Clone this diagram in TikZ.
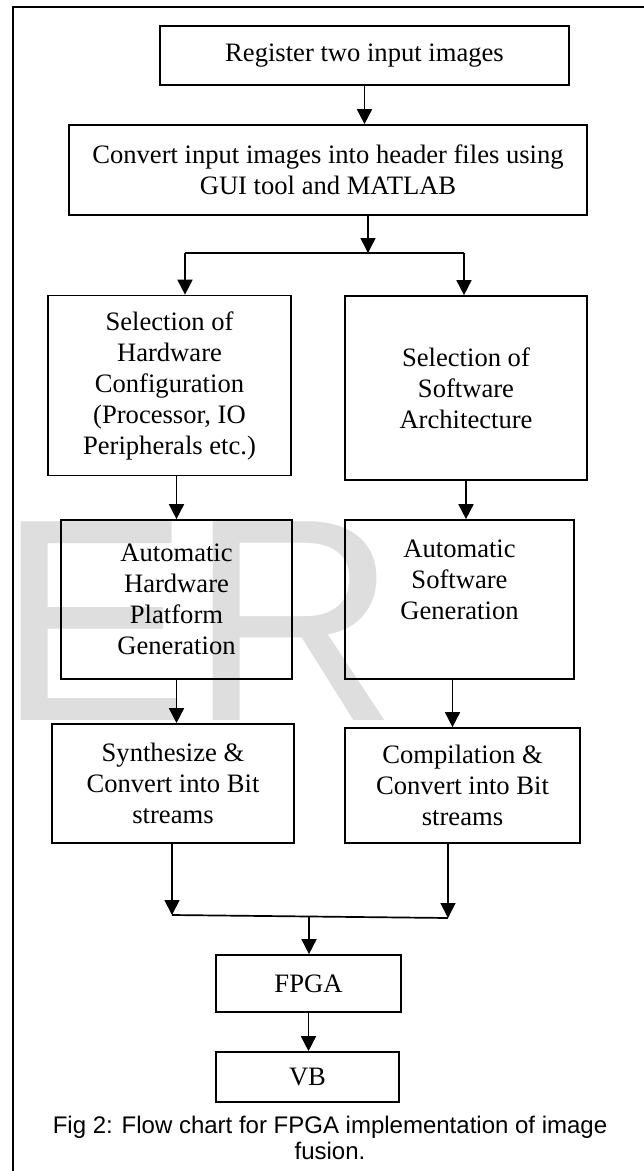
\documentclass[tikz,border=0pt]{standalone}
\usepackage{fontspec}
\setmainfont{Liberation Serif}
\newfontfamily\capfont{Liberation Sans}
\usetikzlibrary{arrows.meta,calc}

\definecolor{wmgray}{gray}{0.87}

\begin{document}
\begin{tikzpicture}[x=1pt,y=-1pt]

\def\lw{1.7pt}
\def\fs{26.6}

\tikzset{
    box/.style={draw, line width=\lw, align=center, inner sep=0pt,
        font=\fontsize{\fs}{31}\selectfont},
    arr/.style={line width=1.7pt, -{Triangle[length=15pt,width=15pt]}},
    wire/.style={line width=1.7pt}
}

\useasboundingbox (0,0) rectangle (644,1171);

% watermark and frame
\node[anchor=base west, inner sep=0pt, text=wmgray,
    font=\capfont\fontsize{289}{289}\selectfont] (wm) at (-3,720) {ER};
\draw[line width=\lw] (13,1171) -- (13,7) -- (644,7);

\node[box, minimum width=409, minimum height=59] (reg) at (364.5,55.5)
    {Register two input images};
\node[box, minimum width=518, minimum height=90] (conv) at (328,170)
    {Convert input images into header files using\\GUI tool and MATLAB};

\node[box, minimum width=243, minimum height=180] (hwsel) at (169.5,385.5)
    {Selection of\\Hardware\\Configuration\\(Processor, IO\\Peripherals etc.)};
\node[box, minimum width=242, minimum height=184] (swsel) at (466,388)
    {Selection of\\Software\\Architecture};

\node[box, minimum width=231, minimum height=159] (autohw) at (176.5,599.5)
    {Automatic\\Hardware\\Platform\\Generation};
\node[box, minimum width=229, minimum height=159] (autosw) at (459.5,599.5)
    {Automatic\\Software\\Generation\\ \strut};

\node[box, minimum width=242, minimum height=119] (synth) at (173,783.5)
    {Synthesize \&\\Convert into Bit\\streams};
\node[box, minimum width=235, minimum height=115] (comp) at (462.5,785.5)
    {Compilation \&\\Convert into Bit\\streams};

\node[box, minimum width=185, minimum height=57] (fpga) at (308.5,983.5) {FPGA};
\node[box, minimum width=183, minimum height=50] (vb) at (307.5,1077) {VB};

\node[align=center, inner sep=0pt, font=\capfont\fontsize{24}{26}\selectfont]
    (cap) at (330,1138) {Fig 2: Flow chart for FPGA implementation of image\\fusion.};

% split and join points
\coordinate (split) at (368,253);
\coordinate (sl) at (185,253);
\coordinate (sr) at (464,253);
\coordinate (jl) at (172,915);
\coordinate (jr) at (448,918);
\coordinate (jm) at (309,916);

\draw[arr] (reg.south) -- (reg.south |- conv.north);
\draw[arr] (conv.south -| split) -- (split);
\draw[wire] (sl) -- (sr);
\draw[arr] (sl) -- (sl |- hwsel.north);
\draw[arr] (sr) -- (sr |- swsel.north);

\draw[arr] (hwsel.south -| autohw) -- (autohw.north);
\draw[arr] (swsel.south) -- (swsel.south |- autosw.north);
\draw[arr] (autohw.south) -- (autohw.south |- synth.north);
\draw[arr] ($(autosw.south)+(-7,0)$) -- ($(autosw.south |- comp.north)+(-7,0)$);

\draw[arr] (synth.south -| jl) -- (jl);
\draw[arr] (comp.south -| jr) -- (jr);
\draw[wire] (jl) -- (jr);
\draw[arr] (jm) -- (jm |- fpga.north);
\draw[arr] (fpga.south) -- (fpga.south |- vb.north);

\end{tikzpicture}
\end{document}
